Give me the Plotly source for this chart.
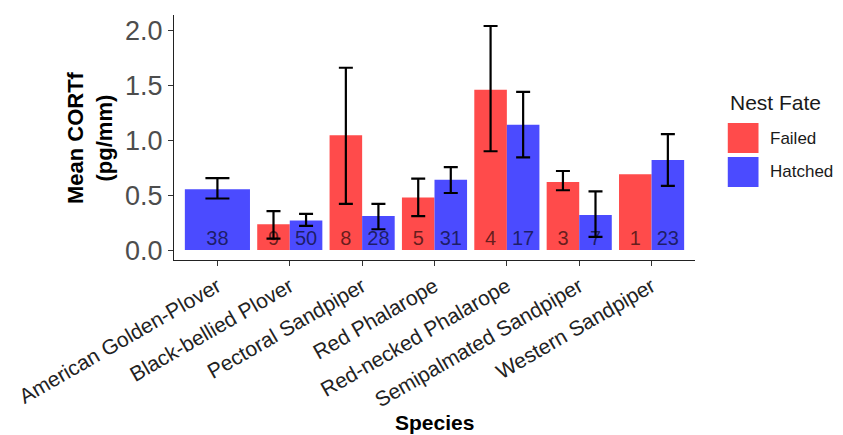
import plotly.graph_objects as go

species = ["American Golden-Plover", "Black-bellied Plover", "Pectoral Sandpiper",
           "Red Phalarope", "Red-necked Phalarope", "Semipalmated Sandpiper",
           "Western Sandpiper"]
failed_mean = [None, 0.236, 1.045, 0.48, 1.46, 0.62, 0.69]
failed_lo = [None, 0.105, 0.42, 0.31, 0.90, 0.545, None]
failed_hi = [None, 0.355, 1.66, 0.65, 2.04, 0.72, None]
failed_n = [None, 9, 8, 5, 4, 3, 1]
hatched_mean = [0.555, 0.27, 0.31, 0.64, 1.14, 0.32, 0.82]
hatched_lo = [0.47, 0.22, 0.19, 0.52, 0.845, 0.12, 0.585]
hatched_hi = [0.655, 0.33, 0.42, 0.755, 1.44, 0.535, 1.055]
hatched_n = [38, 50, 28, 31, 17, 7, 23]
fates = ["Failed", "Hatched"]
yticks = [0.0, 0.5, 1.0, 1.5, 2.0]

RED = "rgb(255,75,75)"
BLUE = "rgb(75,75,255)"
FONT = "Liberation Sans, Arial, sans-serif"
DODGE = 0.9

# dodge positions like ggplot position_dodge(0.9)
groups = {"Failed": (failed_mean, failed_lo, failed_hi, failed_n, RED),
          "Hatched": (hatched_mean, hatched_lo, hatched_hi, hatched_n, BLUE)}
pos = {f: [] for f in fates}
wid = {f: [] for f in fates}
for i in range(len(species)):
    present = [f for f in fates if groups[f][0][i] is not None]
    w = DODGE / len(present)
    for f in fates:
        if f in present:
            k = present.index(f)
            pos[f].append(i - DODGE / 2 + w * (k + 0.5))
            wid[f].append(w)
        else:
            pos[f].append(None)
            wid[f].append(None)

fig = go.Figure()
for f in fates:
    mean, lo, hi, n, col = groups[f]
    idx = [i for i in range(len(species)) if mean[i] is not None]
    fig.add_trace(go.Bar(
        x=[pos[f][i] for i in idx], y=[mean[i] for i in idx],
        width=[wid[f][i] for i in idx], marker=dict(color=col, line=dict(width=0)),
        name=f, showlegend=False, hoverinfo="skip"))

# count labels
for f in fates:
    mean, lo, hi, n, col = groups[f]
    idx = [i for i in range(len(species)) if n[i] is not None]
    fig.add_trace(go.Scatter(
        x=[pos[f][i] for i in idx], y=[0.095] * len(idx),
        text=[str(n[i]) for i in idx], mode="text", textposition="middle center",
        textfont=dict(family=FONT, size=20, color="rgba(0,0,0,0.62)"),
        showlegend=False, hoverinfo="skip"))

# error bars (cap width scales with bar width)
for f in fates:
    mean, lo, hi, n, col = groups[f]
    for wide in (True, False):
        idx = [i for i in range(len(species))
               if mean[i] is not None and lo[i] is not None
               and (wid[f][i] > 0.5) == wide]
        if not idx:
            continue
        fig.add_trace(go.Scatter(
            x=[pos[f][i] for i in idx], y=[mean[i] for i in idx],
            mode="markers", marker=dict(size=0.1, opacity=0),
            error_y=dict(type="data", symmetric=False,
                         array=[hi[i] - mean[i] for i in idx],
                         arrayminus=[mean[i] - lo[i] for i in idx],
                         color="black", thickness=2.2, width=12 if wide else 7),
            showlegend=False, hoverinfo="skip"))

# page body has an 8px margin, so the figure is 8px smaller than the window
fig.update_layout(
    width=835, height=427,
    margin=dict(l=162, r=148, t=7, b=175),
    paper_bgcolor="white", plot_bgcolor="white",
    font=dict(family=FONT),
    barmode="overlay",
    xaxis=dict(range=[-0.6, len(species) - 0.4], tickvals=list(range(len(species))),
               ticktext=species, tickangle=-30, showgrid=False, zeroline=False,
               showline=True, linecolor="#222", linewidth=1.3,
               ticks="outside", ticklen=5, tickcolor="#333", tickwidth=1.2,
               tickfont=dict(family=FONT, size=21, color="#222")),
    yaxis=dict(range=[-0.09, 2.14], tickvals=yticks, tickformat=".1f",
               showgrid=False, zeroline=False,
               showline=True, linecolor="#222", linewidth=1.3,
               ticks="outside", ticklen=5, tickcolor="#333", tickwidth=1.2,
               tickfont=dict(family=FONT, size=27, color="#4d4d4d")),
)

annotations = [
    dict(text="<b>Species</b>", x=0.5, y=-0.665, xref="paper", yref="paper",
         xanchor="center", yanchor="middle", showarrow=False,
         font=dict(family=FONT, size=21, color="black")),
    dict(text="<b>Mean CORTf<br>(pg/mm)</b>", x=-0.162, y=0.5, xref="paper", yref="paper",
         xanchor="center", yanchor="middle", textangle=-90, showarrow=False,
         font=dict(family=FONT, size=22, color="black")),
    dict(text="Nest Fate", x=1.0629, y=0.641, xref="paper", yref="paper",
         xanchor="left", yanchor="middle", showarrow=False,
         font=dict(family=FONT, size=21, color="#1a1a1a")),
]
legend_rows = [("Failed", RED, 0.5592, 0.4367), ("Hatched", BLUE, 0.4204, 0.2980)]
for label, col, y1, y0 in legend_rows:
    fig.add_shape(type="rect", xref="paper", yref="paper", x0=1.0629, x1=1.1219,
                  y0=y0, y1=y1, fillcolor=col, line=dict(width=0))
    annotations.append(dict(text=label, x=1.1410, y=(y0 + y1) / 2, xref="paper",
                            yref="paper", xanchor="left", yanchor="middle",
                            showarrow=False,
                            font=dict(family=FONT, size=17, color="#1a1a1a")))
fig.update_layout(annotations=annotations)

fig.write_html("out.html")
